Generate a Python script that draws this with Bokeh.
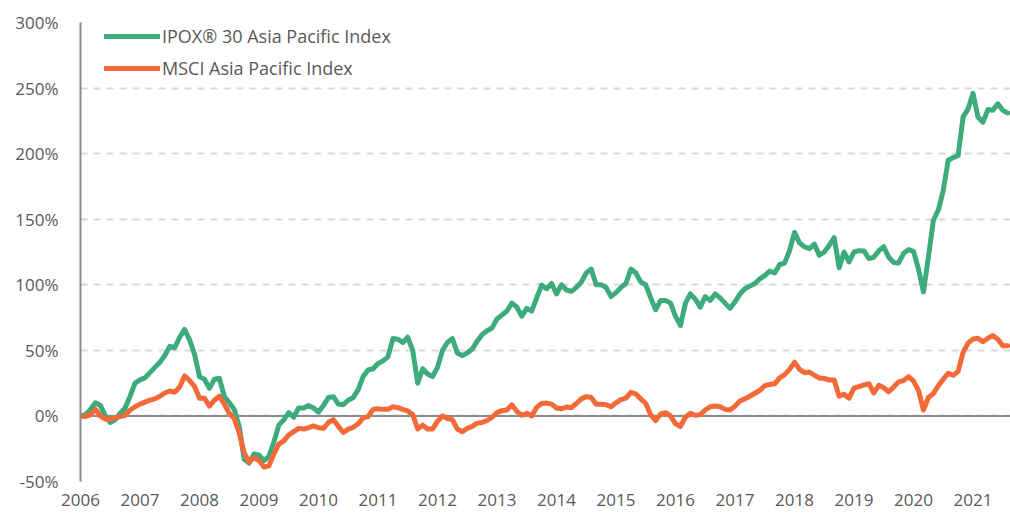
import numpy as np
from bokeh.plotting import figure
from bokeh.models import Span, Legend, LegendItem, FixedTicker, ColumnDataSource
from bokeh.embed import file_html
from bokeh.resources import INLINE

# Monthly index returns (%) from Jan 2006 to Aug 2021
ipox = [0, 1, 5, 10, 8, 0, -5, -3, 2, 6, 15, 25,
        27.5, 29, 33, 37, 41, 46, 53, 52, 60, 66, 58, 47,
        30, 28, 21, 28, 28.7, 15, 10, 5, -8, -33, -36, -29,
        -30, -34, -31, -20, -7, -3, 2.5, -1, 6, 6, 8, 6,
        3, 8, 14, 14.7, 9, 8.5, 12, 14, 20, 30, 35, 36,
        40, 42, 45, 59, 58.5, 56, 60, 50, 25, 36, 32, 30,
        37, 50, 56, 59, 48, 46, 48, 51, 57, 62, 65, 67,
        74, 77, 80, 86, 83, 76, 82, 80, 90, 99.7, 97, 101,
        93, 100, 96, 95, 98, 102, 109, 112, 100, 100, 98, 91,
        94, 98, 101, 112, 109, 102, 100, 90, 81, 88, 88, 86,
        76, 69, 86, 93, 89, 83, 91, 88, 93, 90, 86, 82,
        87, 93, 97, 99, 101, 104.5, 107, 110.5, 109, 115.5, 116.5, 126,
        140, 132, 129, 127.6, 131, 122.5, 125, 130, 136, 113, 125, 117.4,
        125, 126, 125.8, 120, 121, 126, 129, 121, 117, 116.7, 124, 126.8,
        125.5, 112, 94.6, 121, 149, 157, 172, 195, 197, 198.6, 228, 234,
        246, 228, 224, 233.6, 233, 238, 233, 231]

msci = [0, -0.5, 1, 5, 0, -2.5, -2.5, -1.5, -0.5, 0.5, 4.5, 7,
        9, 10.5, 12, 13, 15, 17.5, 19, 18, 22, 30.5, 27, 22.5,
        13.5, 13.5, 7.5, 12, 15, 9, 2, -2, -13, -28, -35, -32,
        -34, -39, -38, -29, -21.5, -19, -14.5, -12, -9.5, -10, -9, -7.6,
        -9, -9.5, -5, -2.8, -8, -12.5, -10, -8.7, -6, -1.5, -0.5, 5,
        5.5, 5, 5, 7, 6.3, 5, 3.8, 1, -10, -7, -10, -10,
        -4, 0, -2, -2.8, -10, -12, -9.5, -8, -5.5, -5, -3.5, -1,
        2.5, 4, 4.5, 8.5, 3.5, 0.5, 2, 0, 6.5, 9.5, 9.8, 9,
        6, 5.5, 6.8, 6.3, 9.5, 13, 14.7, 14, 9, 9, 8.5, 7,
        10, 12.5, 13.6, 18, 16.8, 13, 9.5, 0.8, -3.5, 1.5, 2.5, 0,
        -6, -8, -1, 2, 0.5, 1, 4.5, 7, 7.5, 7, 5, 4.5,
        7.5, 11.5, 13, 15, 17.3, 19.5, 23, 24, 24.5, 29, 31.5, 35.5,
        41, 35.5, 33, 33.5, 31, 29, 28.6, 27.4, 27.4, 15, 16.5, 13.5,
        21.2, 22.3, 23.6, 24.5, 17.5, 23.4, 21.5, 18.5, 22, 26, 27, 30,
        26.5, 19.5, 4.5, 14, 17, 23, 28, 32.5, 31, 34, 48.5, 55.5,
        58.6, 59.2, 56.6, 59.2, 61.3, 58.5, 53.5, 53.5]

start_year = 2006
year_ticks = list(range(2006, 2022))
y_ticks = [-50, 0, 50, 100, 150, 200, 250, 300]
series_names = ["IPOX\u00ae 30 Asia Pacific Index", "MSCI Asia Pacific Index"]

months = np.arange(len(ipox))
x = start_year + months / 12.0
src = ColumnDataSource(dict(x=x, ipox=ipox, msci=msci))

FONT = "Open Sans"
TXT = "#595959"
GREEN = "#3dab7c"
ORANGE = "#f36a38"

p = figure(width=1010, height=514, output_backend="svg", toolbar_location=None,
           x_range=(2006, 2021.63), y_range=(-50, 300),
           min_border_left=80, min_border_right=0, min_border_top=22, min_border_bottom=33)
p.outline_line_color = None
p.background_fill_color = "white"

p.xaxis.ticker = FixedTicker(ticks=year_ticks)
p.xaxis.major_label_overrides = {y: str(y) for y in year_ticks}
p.yaxis.ticker = FixedTicker(ticks=y_ticks)
p.yaxis.major_label_overrides = {v: f"{v}%" for v in y_ticks}

for ax in (p.xaxis[0], p.yaxis[0]):
    ax.major_tick_line_color = None
    ax.minor_tick_line_color = None
    ax.major_label_text_font = FONT
    ax.major_label_text_font_size = "17px"
    ax.major_label_text_color = TXT
p.xaxis.axis_line_color = None
p.xaxis.major_label_standoff = 6
p.yaxis.axis_line_color = "#8c8c8c"
p.yaxis.axis_line_width = 2
p.yaxis.major_label_standoff = 16

p.xgrid.grid_line_color = None
p.ygrid.grid_line_color = "#d9d9d9"
p.ygrid.grid_line_width = 2
p.ygrid.grid_line_dash = "7 6"

zero = Span(location=0, dimension="width", line_color="#8c8c8c", line_width=2, level="underlay")
p.add_layout(zero)

r1 = p.line("x", "ipox", source=src, line_color=GREEN, line_width=5, line_join="round", line_cap="round")
r2 = p.line("x", "msci", source=src, line_color=ORANGE, line_width=5, line_join="round", line_cap="round")

legend = Legend(items=[LegendItem(label=series_names[0], renderers=[r1]),
                       LegendItem(label=series_names[1], renderers=[r2])],
                location=(24, 401), orientation="vertical",
                glyph_width=56, glyph_height=20, label_height=20, label_standoff=2,
                spacing=8, padding=0, margin=0,
                label_text_font=FONT, label_text_font_size="18px", label_text_color=TXT,
                border_line_color=None, background_fill_alpha=0)
p.add_layout(legend)

open("out.html", "w").write(file_html(p, INLINE))
